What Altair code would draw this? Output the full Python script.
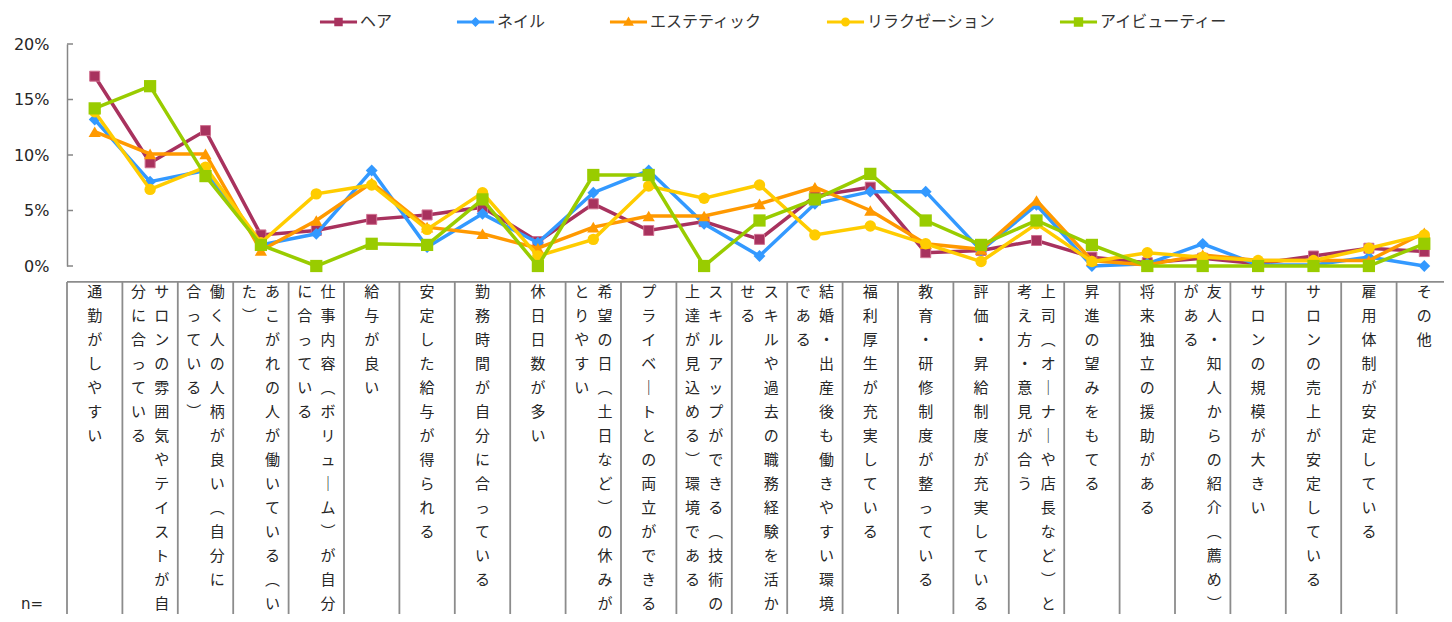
import altair as alt
import pandas as pd

# ---------------- data ----------------
categories = [
    "通勤がしやすい",
    "サロンの雰囲気やテイストが自\n分に合っている",
    "働く人の人柄が良い（自分に\n合っている）",
    "あこがれの人が働いている（い\nた）",
    "仕事内容（ボリューム）が自分\nに合っている",
    "給与が良い",
    "安定した給与が得られる",
    "勤務時間が自分に合っている",
    "休日日数が多い",
    "希望の日（土日など）の休みが\nとりやすい",
    "プライベートとの両立ができる",
    "スキルアップができる（技術の\n上達が見込める）環境である",
    "スキルや過去の職務経験を活か\nせる",
    "結婚・出産後も働きやすい環境\nである",
    "福利厚生が充実している",
    "教育・研修制度が整っている",
    "評価・昇給制度が充実している",
    "上司（オーナーや店長など）と\n考え方・意見が合う",
    "昇進の望みをもてる",
    "将来独立の援助がある",
    "友人・知人からの紹介（薦め）\nがある",
    "サロンの規模が大きい",
    "サロンの売上が安定している",
    "雇用体制が安定している",
    "その他",
]

series = ["ヘア", "ネイル", "エステティック", "リラクゼーション", "アイビューティー"]

hair = [17.1, 9.3, 12.2, 2.8, 3.2, 4.2, 4.6, 5.3, 2.2, 5.6, 3.2, 4.0, 2.4,
        6.3, 7.1, 1.2, 1.4, 2.3, 0.8, 0.3, 0.7, 0.2, 0.9, 1.6, 1.3]
nail = [13.2, 7.6, 8.6, 1.9, 2.9, 8.6, 1.7, 4.7, 2.1, 6.6, 8.6, 3.8, 0.9,
        5.6, 6.7, 6.7, 1.4, 5.5, 0.0, 0.2, 2.0, 0.1, 0.1, 0.8, 0.0]
esthe = [12.1, 10.1, 10.1, 1.4, 4.1, 7.5, 3.5, 2.9, 1.6, 3.5, 4.5, 4.5, 5.6,
         7.1, 5.0, 2.0, 1.5, 5.9, 0.5, 0.1, 1.0, 0.5, 0.5, 0.5, 3.0]
relax = [13.9, 6.9, 8.9, 2.1, 6.5, 7.3, 3.3, 6.6, 0.9, 2.4, 7.2, 6.1, 7.3,
         2.8, 3.6, 2.0, 0.4, 3.8, 0.4, 1.2, 0.8, 0.5, 0.5, 1.6, 2.8]
eye = [14.2, 16.2, 8.1, 1.9, 0.0, 2.0, 1.9, 6.0, 0.0, 8.2, 8.2, 0.0, 4.1,
       6.0, 8.3, 4.1, 1.9, 4.1, 1.9, 0.0, 0.0, 0.0, 0.0, 0.0, 2.0]

y_ticks = [0, 5, 10, 15, 20]
n_label = ["n="]

# ---------------- styles ----------------
colors = ["#A8325E", "#3399FF", "#FF9900", "#FFCC00", "#99CC00"]
shapes = ["square", "diamond", "triangle-up", "circle", "square"]
sizes = [100, 140, 150, 130, 150]
_bar = "M-2.06,-0.18H2.06V0.18H-2.06Z "
legend_paths = [
    _bar + "M-0.47,-0.47H0.47V0.47H-0.47Z",
    _bar + "M0,-0.56L0.56,0L0,0.56L-0.56,0Z",
    _bar + "M0,-0.6L0.6,0.42L-0.6,0.42Z",
    _bar + "M-0.5,0A0.5,0.5 0 1,1 0.5,0A0.5,0.5 0 1,1 -0.5,0Z",
    _bar + "M-0.52,-0.52H0.52V0.52H-0.52Z",
]
grid_color = "#8c8c8c"
text_color = "#262626"
JP = "Noto Sans CJK JP"

n = len(categories)
xscale = alt.Scale(domain=[0, n], range=[0, 1385], nice=False, zero=False)
yscale = alt.Scale(domain=[0, 20], range=[222, 0], nice=False, zero=False)
tscale = alt.Scale(domain=[0, 13], range=[248, 560], nice=False, zero=False)

# ---------------- tables ----------------
rows = []
for s, vals in zip(series, [hair, nail, esthe, relax, eye]):
    for i, v in enumerate(vals):
        rows.append({"series": s, "pos": i + 0.5, "value": v})
df = pd.DataFrame(rows)

vert = {"（": "︵", "）": "︶", "ー": "｜"}
chars = []
for ci, label in enumerate(categories):
    cols = label.split("\n")
    for k, col in enumerate(cols):
        off = 0.0 if len(cols) == 1 else (0.21 if k == 0 else -0.21)
        for j, ch in enumerate(col):
            chars.append({"cx": ci + 0.5 + off, "row": j, "ch": vert.get(ch, ch)})
df_chars = pd.DataFrame(chars)
df_bounds = pd.DataFrame({"b": list(range(n + 1))})
df_ticks = pd.DataFrame({"t": y_ticks})
df_n = pd.DataFrame({"label": n_label})

# ---------------- layers ----------------
layers = []

# table grid
layers.append(
    alt.Chart(df_bounds).mark_rule(color=grid_color, strokeWidth=1.8).encode(
        x=alt.X("b:Q", scale=xscale, axis=None),
        y=alt.YDatum(-0.42, type="quantitative", scale=tscale, axis=None),
        y2=alt.Y2Datum(13.5),
    )
)
layers.append(
    alt.Chart(df_n).mark_rule(color=grid_color, strokeWidth=1.8).encode(
        x=alt.XDatum(0, type="quantitative", scale=xscale, axis=None),
        x2=alt.X2Datum(n),
        y=alt.YDatum(-0.42, type="quantitative", scale=tscale, axis=None),
    )
)
layers.append(
    alt.Chart(df_chars).mark_text(font=JP, fontSize=15, color=text_color,
                                   align="center", baseline="middle").encode(
        x=alt.X("cx:Q", scale=xscale, axis=None),
        y=alt.Y("row:Q", scale=tscale, axis=None),
        text="ch:N",
    )
)
layers.append(
    alt.Chart(df_n).mark_text(font="DejaVu Sans", fontSize=15,
                              color=text_color, align="center", baseline="middle").encode(
        x=alt.XDatum(-0.63, type="quantitative", scale=xscale, axis=None),
        y=alt.YDatum(13.0, type="quantitative", scale=tscale, axis=None),
        text="label:N",
    )
)

# y axis ticks pointing inward
layers.append(
    alt.Chart(df_ticks).mark_rule(color="#868686", strokeWidth=1.5).encode(
        y=alt.Y("t:Q", scale=yscale, axis=None),
        x=alt.value(0),
        x2=alt.value(6),
    )
)

yaxis = alt.Axis(values=y_ticks, labelExpr="datum.value + '%'", title=None, grid=False,
                 ticks=False, tickSize=0, domainColor="#868686", domainWidth=1.5,
                 labelFont="DejaVu Sans", labelFontSize=16, labelColor=text_color,
                 labelPadding=18)

for k, s in enumerate(series):
    base = alt.Chart(df).transform_filter(alt.datum.series == s)
    layers.append(base.mark_line(color=colors[k], strokeWidth=3.5).encode(
        x=alt.X("pos:Q", scale=xscale, axis=None),
        y=alt.Y("value:Q", scale=yscale, axis=yaxis if k == 0 else None),
    ))
    pt_kwargs = dict(shape=shapes[k], filled=True, size=sizes[k], fill=colors[k], opacity=1)
    if k == 0:
        pt_kwargs.update(stroke="#D07090", strokeWidth=1)
    else:
        pt_kwargs.update(strokeWidth=0)
    layers.append(base.mark_point(**pt_kwargs).encode(
        x=alt.X("pos:Q", scale=xscale, axis=None),
        y=alt.Y("value:Q", scale=yscale, axis=None),
    ))

# legend
leg = alt.Legend(orient="none", legendX=262.5, legendY=-31, direction="horizontal",
                 title=None, labelFont=JP, labelFontSize=16, labelColor="#333333",
                 symbolSize=324, columnPadding=64, labelOffset=12.5,
                 symbolStrokeWidth=0, labelLimit=300)
layers.append(
    alt.Chart(pd.DataFrame({"series": series})).transform_filter("false")
    .mark_point(filled=True, opacity=1).encode(
        color=alt.Color("series:N", scale=alt.Scale(domain=series, range=colors), legend=leg),
        shape=alt.Shape("series:N", scale=alt.Scale(domain=series, range=legend_paths), legend=leg),
    )
)

chart = alt.layer(*layers).resolve_scale(y="independent").properties(
    width=1377, height=570,
    autosize=alt.AutoSizeParams(type="none"),
    padding={"left": 59, "top": 36, "right": 0, "bottom": 0},
).configure_view(stroke=None)

chart.save("out.html", embed_options={"renderer": "svg", "actions": False})
